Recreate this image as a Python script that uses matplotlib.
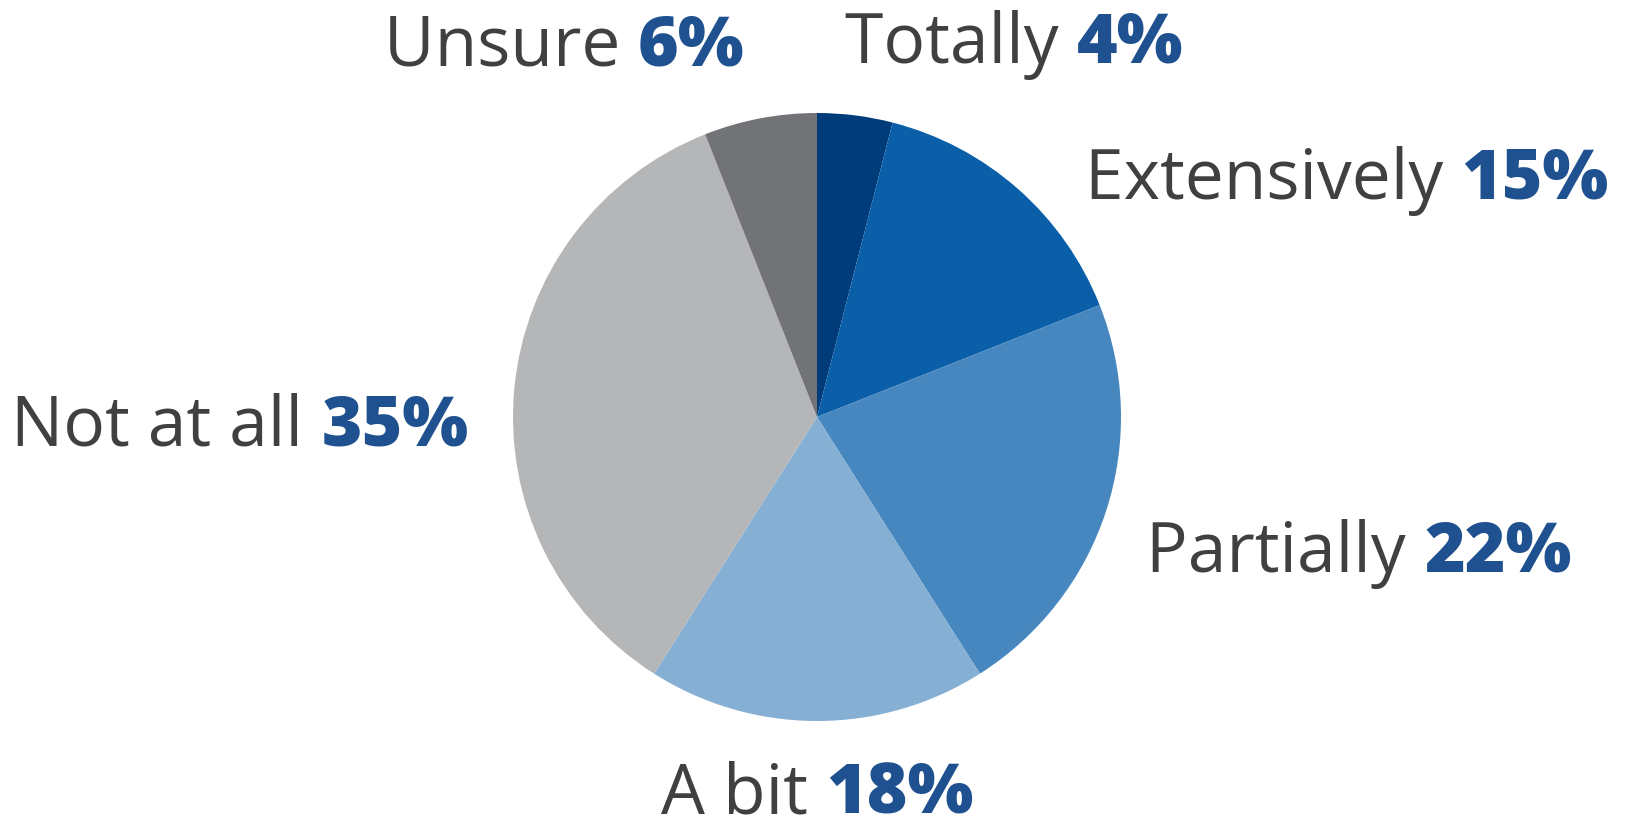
import matplotlib.pyplot as plt
import numpy as np
from matplotlib.offsetbox import TextArea, HPacker, AnnotationBbox

categories = ['Totally', 'Extensively', 'Partially', 'A bit', 'Not at all', 'Unsure']
shares = [4, 15, 22, 18, 35, 6]
colors = ['#003b7a', '#0a5fa8', '#4787bf', '#86afd4', '#b5b6b8', '#727376']

# label layout: offset (points) from the wedge's outer mid-point, and box alignment
label_offsets = [(-7, 51), (48, 6), (29, -31), (0, -54), (-33, -28), (-11, 51)]
label_align = [(0, 0.5), (0, 0.5), (0, 0.5), (0.5, 0.5), (1, 0.5), (1, 0.5)]

plt.rcParams['font.family'] = ['Open Sans', 'DejaVu Sans']

fig = plt.figure(figsize=(16.25, 8.31), dpi=100)
R = 304
cx, cy = 817, 831 - 417
ax = fig.add_axes([(cx - R) / 1625, (cy - R) / 831, 2 * R / 1625, 2 * R / 831])

wedges, _ = ax.pie(shares, colors=colors, startangle=90, counterclock=False,
                   radius=1, wedgeprops=dict(linewidth=0))
ax.set_xlim(-1, 1)
ax.set_ylim(-1, 1)
ax.set_aspect('equal')
ax.axis('off')

for w, name, val, off, al in zip(wedges, categories, shares, label_offsets, label_align):
    ang = np.deg2rad((w.theta1 + w.theta2) / 2)
    xy = (np.cos(ang), np.sin(ang))
    t1 = TextArea(name + ' ', textprops=dict(fontsize=50, color='#404040'))
    t2 = TextArea(f'{val}%', textprops=dict(fontsize=50, color='#1f5190', fontweight='heavy'))
    box = HPacker(children=[t1, t2], align='baseline', pad=0, sep=0)
    ab = AnnotationBbox(box, xy, xybox=off, boxcoords='offset points',
                        box_alignment=al, frameon=False, annotation_clip=False)
    ax.add_artist(ab)

fig.savefig('out.png', dpi=100, facecolor='white')
